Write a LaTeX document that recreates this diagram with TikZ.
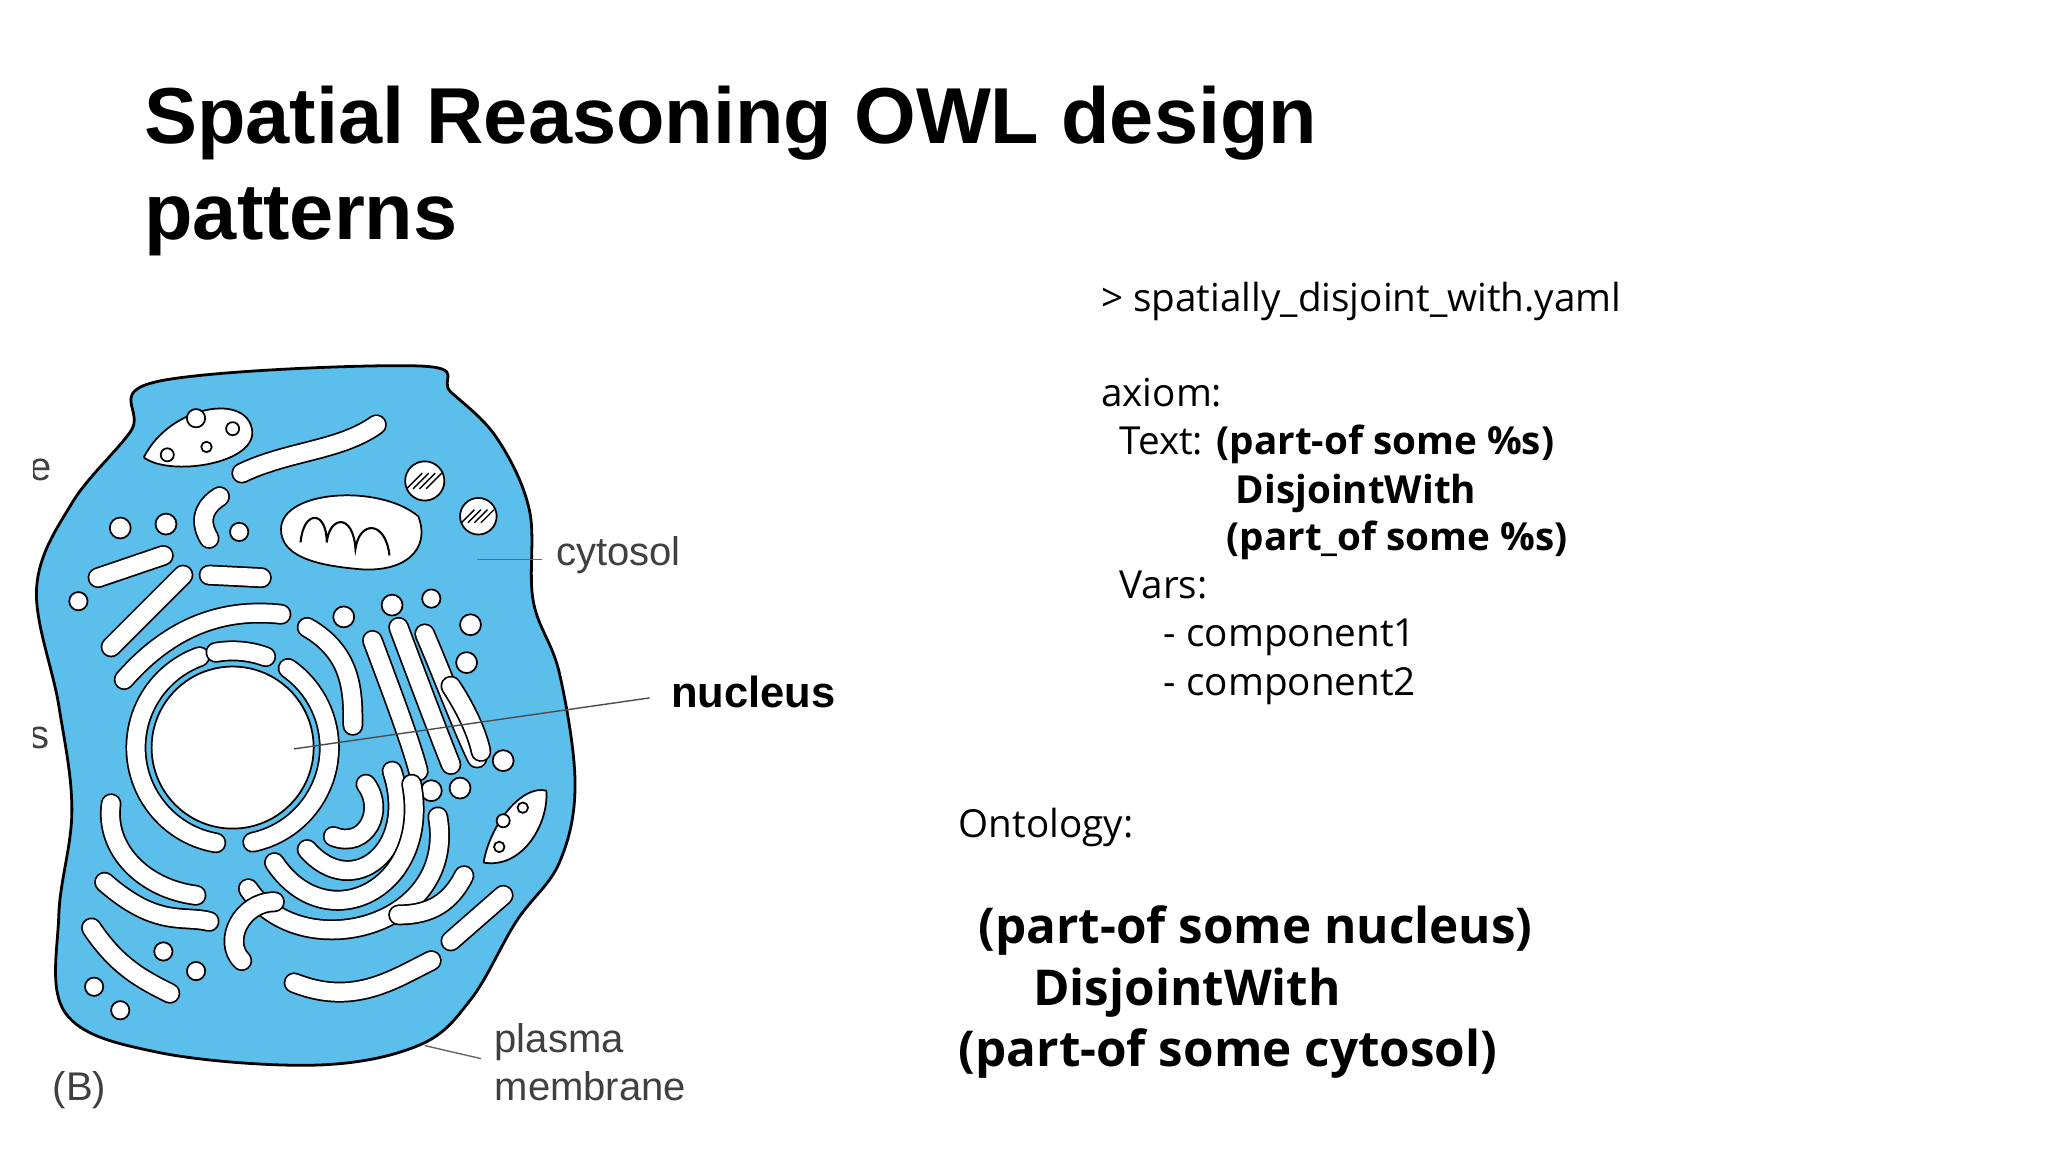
\documentclass[tikz,border=0pt]{standalone}
\usepackage{fontspec}
\setmainfont{Liberation Sans}
\newfontfamily\ub{Open Sans}
\begin{document}
\begin{tikzpicture}[x=0.013196cm,y=-0.013196cm,
  org/.style={draw=black,line width=0.5pt,double=white,double distance=5pt,line cap=round},
  dot/.style={draw=black,line width=0.5pt,fill=white},
  lbl/.style={anchor=base west,inner sep=0pt,font=\fontsize{11.5}{13}\selectfont\color{black!75}},
  yml/.style={anchor=base west,inner sep=0pt,font=\ub\fontsize{11.1}{13}\selectfont},
  ont/.style={anchor=base west,inner sep=0pt,font=\ub\bfseries\fontsize{14.2}{17}\selectfont}]
\useasboundingbox (0,0) rectangle (1567,882);
\fill[white] (0,0) rectangle (1567,882);
\node[anchor=base west,inner sep=0pt,font=\bfseries\fontsize{22.8}{27}\selectfont] (t1) at (110,110) {Spatial Reasoning OWL design};
\node[anchor=base west,inner sep=0pt,font=\bfseries\fontsize{22.8}{27}\selectfont] (t2) at (110,183) {patterns};
% cell
\begin{scope}
\clip (26,250) rectangle (700,873);
\draw[fill={rgb,255:red,92;green,190;blue,235},line width=0.8pt] plot[smooth cycle,tension=0.6] coordinates {(120,292) (320,280) (345,300) (380,335) (405,390) (408,460) (428,515) (440,600) (428,660) (395,705) (360,765) (320,800) (240,815) (120,805) (50,775) (45,700) (55,620) (45,540) (28,450) (55,385) (100,330)};
\node[lbl] (e) at (22,368) {e};
\node[lbl] (s) at (22,573) {s};
\end{scope}
% nucleus
\coordinate (nc) at (178,572);
\draw[org] (nc) ++(78:74) arc (78:-55:74);
\draw[org] (nc) ++(100:74) arc (100:250:74);
\draw[org] (nc) ++(-70:74) arc (-70:-100:74);
\draw[dot] (nc) circle (62);
% organelles
\draw[dot] (110,350) .. controls (130,310) and (190,300) .. (193,330) .. controls (195,355) and (130,365) .. (110,350);
\draw[dot] (150,320) circle (7); \draw[dot] (178,328) circle (5); \draw[dot] (128,348) circle (5); \draw[dot] (158,342) circle (4);
\draw[org] (185,362) .. controls (220,345) and (260,345) .. (288,325);
\draw[dot] (215,405) .. controls (215,375) and (290,370) .. (320,395) .. controls (330,420) and (310,440) .. (270,435) .. controls (240,432) and (215,425) .. (215,405);
\draw[line width=0.6pt] (230,415) .. controls (232,390) and (250,390) .. (250,415) .. controls (252,395) and (270,392) .. (272,420) .. controls (275,398) and (295,398) .. (298,425);
\draw[dot] (325,368) circle (15); \draw[dot] (366,395) circle (14);
\foreach \a in {-8,-3,2,7}{\draw (325+\a-6,368+6) -- (325+\a+6,368-6); \draw (366+\a-5,395+5) -- (366+\a+5,395-5);}
\draw[org] (160,412) .. controls (150,395) and (160,385) .. (168,380);
\draw[dot] (92,404) circle (8); \draw[dot] (127,401) circle (8); \draw[dot] (183,407) circle (7);
\draw[org] (75,442) -- (125,425);
\draw[org] (160,440) -- (200,442);
\draw[org] (85,495) .. controls (110,470) and (125,455) .. (140,440);
\draw[dot] (60,460) circle (7);
\draw[org] (95,520) .. controls (130,480) and (170,465) .. (215,470);
\draw[org] (235,480) .. controls (270,500) and (270,530) .. (270,555);
\draw[dot] (263,472) circle (8); \draw[dot] (300,463) circle (8); \draw[dot] (330,458) circle (7); \draw[dot] (360,478) circle (8); \draw[dot] (357,507) circle (8);
\draw[org] (285,490) .. controls (300,530) and (315,570) .. (320,590);
\draw[org] (305,480) .. controls (320,520) and (335,560) .. (345,585);
\draw[org] (325,485) .. controls (340,520) and (355,560) .. (365,580);
\draw[org] (345,525) .. controls (355,540) and (365,560) .. (368,575);
\draw[dot] (385,582) circle (8); \draw[dot] (330,605) circle (8); \draw[dot] (352,603) circle (8);
\draw[dot] (370,660) .. controls (375,630) and (400,600) .. (418,605) .. controls (420,630) and (400,665) .. (370,660);
\draw[dot] (385,628) circle (5); \draw[dot] (400,618) circle (4); \draw[dot] (382,648) circle (4);
\draw[org] (85,615) .. controls (80,650) and (110,680) .. (150,685);
\draw[org] (80,675) .. controls (120,710) and (140,700) .. (160,705);
\draw[org] (255,640) .. controls (280,650) and (295,620) .. (280,600);
\draw[org] (235,650) .. controls (270,690) and (320,650) .. (300,590);
\draw[org] (210,660) .. controls (250,720) and (330,680) .. (315,600);
\draw[org] (190,680) .. controls (230,740) and (350,710) .. (335,625);
\draw[org] (185,735) .. controls (170,720) and (185,690) .. (210,690);
\draw[org] (225,752) .. controls (270,770) and (300,750) .. (330,735);
\draw[org] (305,700) .. controls (330,700) and (345,690) .. (355,670);
\draw[org] (345,720) -- (385,685);
\draw[org] (70,710) .. controls (90,740) and (110,750) .. (130,760);
\draw[dot] (125,728) circle (7); \draw[dot] (150,743) circle (7); \draw[dot] (72,755) circle (7); \draw[dot] (92,773) circle (7);
% labels
\node[lbl] (cyt) at (425,433) {cytosol};
\draw[black!60] (365,428) -- (415,428);
\node[anchor=base west,inner sep=0pt,font=\bfseries\fontsize{12.5}{15}\selectfont] (nuc) at (513,541) {nucleus};
\coordinate (np) at (225,573);
\draw[black!70] (np) -- (497,534);
\node[lbl] (pm1) at (378,805) {plasma};
\node[lbl] (pm2) at (378,842) {membrane};
\draw[black!60] (325,800) -- (368,810);
\node[lbl] (b) at (40,842) {(B)};
% yaml
\node[yml] (y1) at (842,238) {> spatially\_disjoint\_with.yaml};
\node[yml] (y2) at (842,311) {axiom:};
\node[yml] (y3) at (856,348) {Text: \textbf{(part-of some \%s)}};
\node[yml] (y4) at (945,385) {\textbf{DisjointWith}};
\node[yml] (y5) at (938,421) {\textbf{(part\_of some \%s)}};
\node[yml] (y6) at (856,458) {Vars:};
\node[yml] (y7) at (890,495) {- component1};
\node[yml] (y8) at (890,532) {- component2};
\node[yml] (y9) at (733,641) {Ontology:};
\node[ont] (o1) at (748,722) {(part-of some nucleus)};
\node[ont] (o2) at (790,769) {DisjointWith};
\node[ont] (o3) at (733,816) {(part-of some cytosol)};
\end{tikzpicture}
\end{document}
